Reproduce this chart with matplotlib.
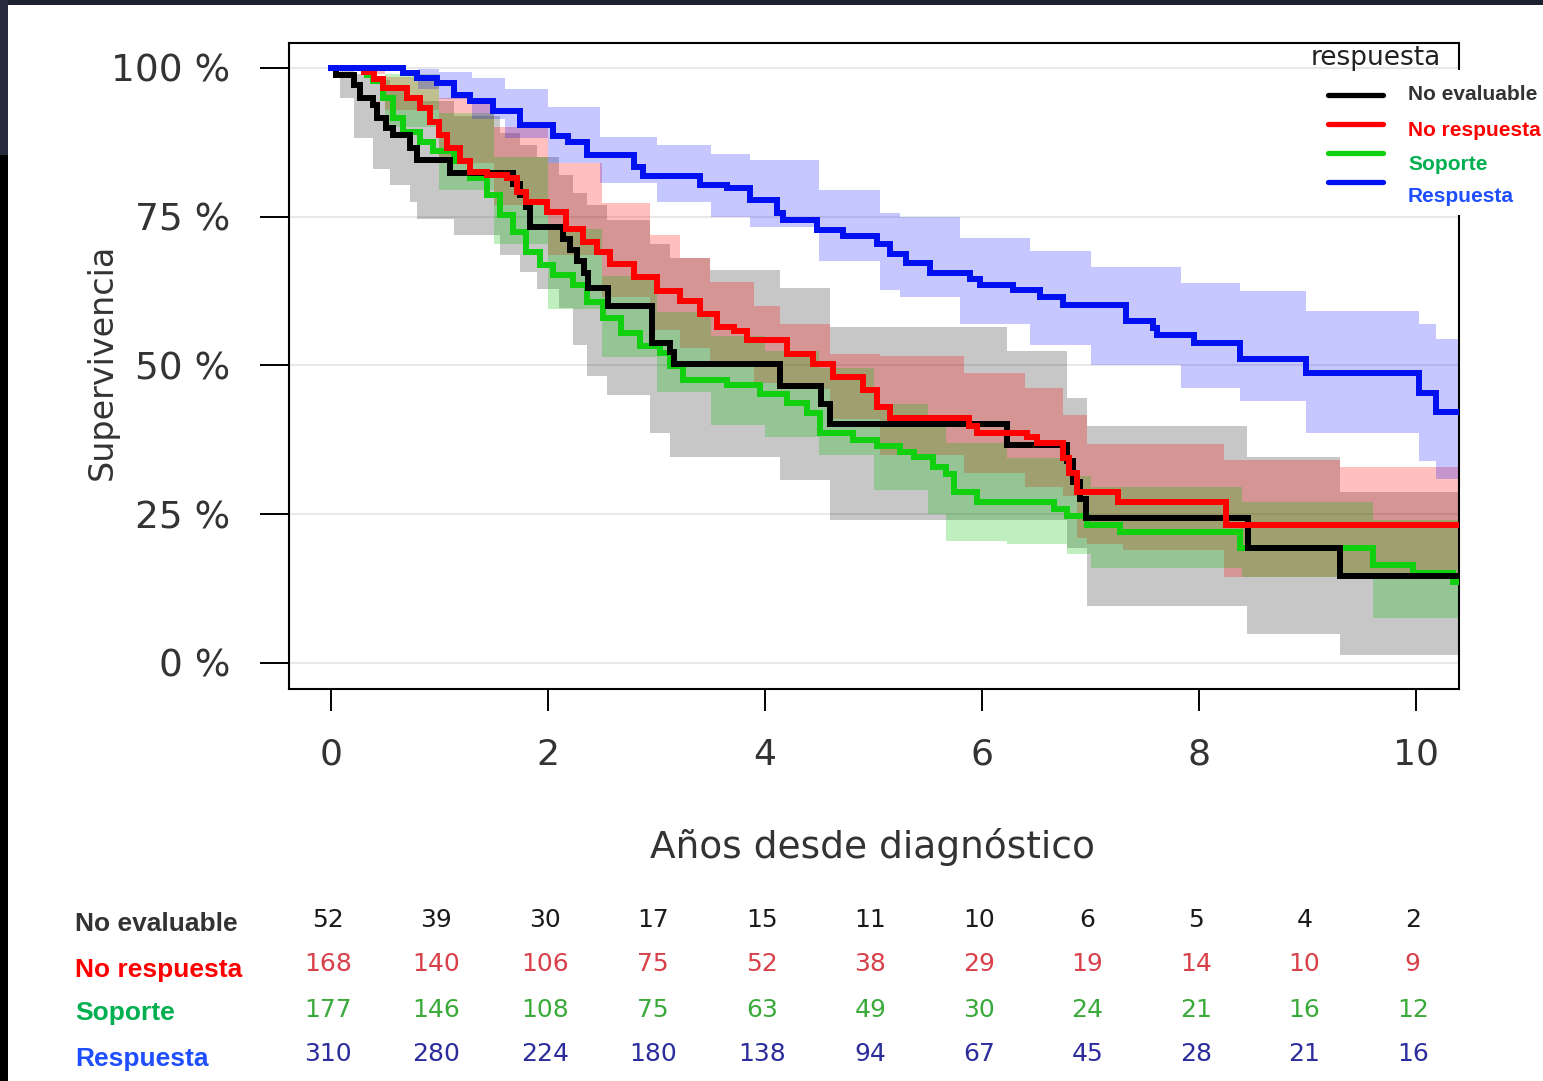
"""
Kaplan-Meier survival by response group, with confidence bands and a
number-at-risk table underneath. Saves out.png at 1543x1081.
"""

import matplotlib
matplotlib.use("Agg")
import matplotlib.pyplot as plt
import matplotlib.transforms as mtransforms
from matplotlib.lines import Line2D
from matplotlib.patches import Rectangle

W, H, DPI = 1543, 1081, 100

# ---- curves (years, survival %) : step functions, value holds from t on ----
noeval_t = [0, 0.05, 0.21, 0.27, 0.39, 0.42, 0.51, 0.57, 0.73, 0.79, 1.10,
            1.68, 1.74, 1.80, 1.83, 2.14, 2.20, 2.27, 2.33, 2.37, 2.55, 2.96,
            3.12, 3.16, 4.14, 4.52, 4.60, 6.23, 6.78, 6.84, 6.90, 6.96, 8.45,
            9.30, 10.40]
noeval_s = [100, 98.9, 97.2, 94.9, 93.8, 91.6, 89.9, 88.8, 86.5, 84.6, 82.4,
            80.5, 78.6, 76.7, 73.2, 71.3, 69.4, 67.5, 65.6, 63.0, 60.0, 53.8,
            52.2, 50.3, 46.6, 43.5, 40.2, 36.6, 34.0, 30.5, 27.5, 24.4, 19.3,
            14.6, 14.6]

norresp_t = [0, 0.30, 0.40, 0.48, 0.70, 0.82, 0.91, 1.00, 1.07, 1.19, 1.28,
             1.44, 1.62, 1.71, 1.80, 1.99, 2.17, 2.32, 2.45, 2.57, 2.79, 3.00,
             3.22, 3.40, 3.56, 3.71, 3.83, 4.20, 4.44, 4.63, 4.90, 5.03, 5.15,
             5.88, 5.95, 6.41, 6.51, 6.75, 6.80, 6.88, 7.25, 8.25, 10.40]
norresp_s = [100, 99.4, 98.2, 96.6, 94.9, 93.3, 91.0, 88.8, 86.5, 84.3, 82.6,
             82.0, 81.5, 79.2, 77.5, 75.8, 73.0, 70.8, 69.1, 67.0, 64.9, 62.6,
             60.9, 58.7, 56.4, 55.8, 54.3, 51.9, 50.3, 48.0, 45.8, 43.0, 41.2,
             39.8, 38.7, 38.0, 37.0, 34.5, 32.0, 28.8, 27.0, 23.2, 23.2]

soporte_t = [0, 0.33, 0.39, 0.48, 0.57, 0.66, 0.82, 0.94, 1.13, 1.28, 1.44,
             1.56, 1.68, 1.80, 1.93, 2.05, 2.23, 2.36, 2.51, 2.67, 2.85, 3.03,
             3.12, 3.24, 3.65, 3.95, 4.20, 4.39, 4.51, 4.81, 5.03, 5.24, 5.37,
             5.55, 5.67, 5.74, 5.95, 6.66, 6.78, 6.97, 7.27, 8.38, 9.60, 9.97,
             10.34, 10.40]
soporte_s = [100, 98.9, 97.8, 94.9, 91.6, 89.3, 87.6, 86.0, 84.3, 81.5, 78.7,
             75.3, 72.5, 69.1, 66.9, 65.2, 63.5, 60.7, 57.9, 55.5, 53.3, 52.1,
             49.9, 47.6, 46.8, 45.2, 43.7, 42.0, 38.7, 37.5, 36.4, 35.5, 34.6,
             33.0, 31.7, 28.8, 27.0, 25.8, 24.7, 23.2, 22.1, 19.4, 16.5, 15.1,
             13.6, 13.6]

resp_t = [0, 0.66, 0.79, 0.98, 1.13, 1.28, 1.49, 1.74, 2.05, 2.18, 2.36, 2.79,
          2.88, 3.40, 3.65, 3.86, 4.11, 4.17, 4.48, 4.72, 5.03, 5.15, 5.30,
          5.52, 5.89, 5.98, 6.29, 6.53, 6.75, 7.33, 7.58, 7.61, 7.95, 8.38,
          8.99, 10.03, 10.18, 10.40]
resp_s = [100, 99.2, 98.3, 97.5, 95.5, 94.4, 92.7, 90.4, 88.5, 87.6, 85.4,
          83.4, 81.8, 80.4, 79.8, 77.8, 75.6, 74.5, 72.8, 71.7, 70.4, 68.8,
          67.2, 65.6, 64.5, 63.6, 62.7, 61.5, 60.1, 57.5, 56.3, 55.1, 53.7,
          51.1, 48.7, 45.4, 42.2, 42.2]

# ---- confidence bands (years, lower %, upper %) ----
noeval_bt = [0, 0.08, 0.21, 0.39, 0.54, 0.73, 0.79, 1.13, 1.56, 1.74, 1.90,
             2.10, 2.23, 2.36, 2.54, 2.94, 3.12, 3.49, 4.14, 4.60, 6.23, 6.78,
             6.97, 8.44, 9.30, 10.40]
noeval_lo = [100, 94.9, 88.2, 83.1, 80.3, 77.5, 74.7, 71.9, 68.5, 65.7, 62.9,
             59.6, 53.5, 48.3, 45.0, 38.6, 34.6, 34.6, 30.8, 24.0, 24.0, 19.4,
             9.5, 4.8, 1.3, 1.3]
noeval_hi = [100, 100, 99.0, 98.0, 97.0, 95.5, 94.5, 92.0, 89.0, 87.0, 85.0,
             82.0, 79.0, 77.0, 74.5, 70.5, 68.0, 66.0, 63.0, 56.5, 52.5, 44.6,
             39.9, 34.6, 28.8, 28.8]

norresp_bt = [0, 0.3, 0.5, 1.0, 1.5, 2.0, 2.5, 2.94, 3.22, 3.49, 3.9, 4.14,
              4.6, 5.06, 5.83, 6.40, 6.75, 6.88, 6.97, 7.3, 8.23, 9.30, 10.40]
norresp_lo = [100, 99, 93, 84, 77, 68.5, 61.5, 56, 53, 50.5, 47, 46, 41,
              35, 32, 29.5, 28, 21, 20, 19, 14.5, 14.5, 14.5]
norresp_hi = [100, 100, 98.5, 95, 90, 84, 77.3, 72, 68, 64, 60, 57, 52,
              51.6, 48.7, 46.3, 41.7, 41.7, 36.8, 36.8, 34.1, 32.9, 32.9]

soporte_bt = [0, 0.3, 0.5, 1.0, 1.5, 2.0, 2.5, 3.0, 3.5, 4.0, 4.5, 5.0, 5.5,
              5.67, 6.23, 6.78, 7.0, 8.4, 9.6, 10.40]
soporte_lo = [100, 99.5, 90, 79.5, 70.5, 59.5, 51.5, 45.5, 40, 38, 35, 29, 25,
              20.5, 20, 18.3, 16, 14.5, 7.5, 7.5]
soporte_hi = [100, 100, 99, 92.5, 85, 73, 65, 59, 55, 52.5, 49.5, 43.5, 41,
              37, 34.5, 31.5, 29.5, 27, 24, 24]

resp_bt = [0, 0.64, 0.8, 1.0, 1.3, 1.6, 2.0, 2.48, 3.0, 3.5, 3.86, 4.5, 5.06,
           5.24, 5.8, 6.44, 7.0, 7.83, 8.38, 8.99, 10.03, 10.18, 10.40]
resp_lo = [100, 100, 96.5, 94.8, 91.5, 88.3, 84, 80.7, 77.5, 75, 73.3, 67.5,
           62.7, 61.5, 57, 53.4, 50, 46.3, 44, 38.7, 34, 31, 31]
resp_hi = [100, 100, 99.8, 99.3, 98.3, 96.5, 93.5, 88.4, 87, 85.5, 84.5, 79.5,
           75.6, 75.0, 71.5, 69.2, 66.5, 63.9, 62.5, 59.2, 56.9, 54.5, 54.5]

# ---- number at risk ----
risk_years = [0, 1, 2, 3, 4, 5, 6, 7, 8, 9, 10]
noeval_risk = [52, 39, 30, 17, 15, 11, 10, 6, 5, 4, 2]
norresp_risk = [168, 140, 106, 75, 52, 38, 29, 19, 14, 10, 9]
soporte_risk = [177, 146, 108, 75, 63, 49, 30, 24, 21, 16, 12]
resp_risk = [310, 280, 224, 180, 138, 94, 67, 45, 28, 21, 16]

group_names = ["No evaluable", "No respuesta", "Soporte", "Respuesta"]

GROUPS = [
    # name, t, s, band t, lo, hi, risk, line colour, band colour, band alpha,
    # label colour, risk colour
    (group_names[0], noeval_t, noeval_s, noeval_bt, noeval_lo, noeval_hi,
     noeval_risk, "#000000", "#000000", 0.22, "#333333", "#1a1a1a"),
    (group_names[1], norresp_t, norresp_s, norresp_bt, norresp_lo, norresp_hi,
     norresp_risk, "#ff0000", "#ff0000", 0.25, "#ff0000", "#d8404a"),
    (group_names[2], soporte_t, soporte_s, soporte_bt, soporte_lo, soporte_hi,
     soporte_risk, "#10d010", "#00c000", 0.25, "#00b050", "#3aaa3a"),
    (group_names[3], resp_t, resp_s, resp_bt, resp_lo, resp_hi,
     resp_risk, "#0010f0", "#0000ff", 0.22, "#1f4eff", "#2c2c9c"),
]
LINE_ORDER = [2, 0, 1, 3]  # green under black, red and blue on top

TICK_FONT = "DejaVu Sans"
BOLD_FONT = "Liberation Sans"


def fx(px):
    return px / W


def fy(py):
    return 1 - py / H


fig = plt.figure(figsize=(W / DPI, H / DPI), dpi=DPI)
fig.patch.set_facecolor("white")

# screenshot frame: dark strips along top and left edges
fig.add_artist(Rectangle((0, fy(5)), 1, 5 / H, transform=fig.transFigure,
                         facecolor="#1e2130", edgecolor="none", zorder=10))
fig.add_artist(Rectangle((0, fy(155)), fx(8), 155 / H, transform=fig.transFigure,
                         facecolor="#272b3d", edgecolor="none", zorder=10))
fig.add_artist(Rectangle((0, 0), fx(8), fy(155), transform=fig.transFigure,
                         facecolor="#000000", edgecolor="none", zorder=10))

ax = fig.add_axes([fx(289), fy(689), fx(1459 - 289), (689 - 43) / H])
ax.set_xlim(-0.387, 10.396)
ax.set_ylim(-4.37, 104.2)

for v in [0, 25, 50, 75, 100]:
    ax.axhline(v, color="#e4e4e4", lw=1.2, zorder=0)

for (name, t, s, bt, lo, hi, risk, lc, bc, ba, tc, rc) in GROUPS:
    ax.fill_between(bt, lo, hi, step="post", color=bc, alpha=ba, lw=0, zorder=1)

for i in LINE_ORDER:
    name, t, s = GROUPS[i][0], GROUPS[i][1], GROUPS[i][2]
    ax.plot(t, s, drawstyle="steps-post", color=GROUPS[i][7], lw=4.3,
            solid_joinstyle="miter", zorder=3)

ax.set_xticks([0, 2, 4, 6, 8, 10])
ax.set_yticks([0, 25, 50, 75, 100])
ax.set_yticklabels([f"{v} %" for v in [0, 25, 50, 75, 100]])
ax.tick_params(axis="y", length=21, width=1.4, pad=21, labelsize=27,
               labelcolor="#333333")
ax.tick_params(axis="x", length=16, width=1.4, pad=19, labelsize=26,
               labelcolor="#333333")
for lab in ax.get_xticklabels() + ax.get_yticklabels():
    lab.set_family(TICK_FONT)
for sp in ax.spines.values():
    sp.set_linewidth(1.5)
    sp.set_color("black")

fig.text(fx(872), fy(847), "Años desde diagnóstico", ha="center", va="center",
         fontsize=27, color="#333333", family=TICK_FONT)
fig.text(fx(102), fy(362), "Supervivencia", ha="center", va="center",
         rotation=90, fontsize=24, color="#333333", family=TICK_FONT)

# legend: pasted panel over the top-right corner of the frame
fig.text(fx(1376), fy(58), "respuesta", ha="center", va="center",
         fontsize=19, color="#222222", family=TICK_FONT, zorder=12)
fig.add_artist(Rectangle((fx(1388), fy(215)), fx(1543 - 1388), 145 / H,
                         transform=fig.transFigure, facecolor="white",
                         edgecolor="none", zorder=11))
handle_y = [95, 124, 153, 182]
label_y = [95, 131, 164, 197]
for k, g in enumerate(GROUPS):
    fig.add_artist(Line2D([fx(1328), fx(1383)], [fy(handle_y[k])] * 2,
                          transform=fig.transFigure, color=g[7], lw=3.8,
                          solid_capstyle="round", zorder=12))
    fig.text(fx(1408), fy(label_y[k]), g[0], ha="left", va="center",
             fontsize=15, fontweight="bold", color=g[10], family=BOLD_FONT,
             zorder=12)

# number-at-risk table
row_label_y = [924, 970, 1013, 1059]
row_num_y = [920, 964, 1010, 1054]
trans = mtransforms.blended_transform_factory(ax.transData, fig.transFigure)
for k, g in enumerate(GROUPS):
    fig.text(fx(75), fy(row_label_y[k]), g[0], ha="left", va="center",
             fontsize=19, fontweight="bold", color=g[10], family=BOLD_FONT)
    for yr, n in zip(risk_years, g[6]):
        ax.text(yr - 0.03, fy(row_num_y[k]), str(n), transform=trans,
                ha="center", va="center", fontsize=18, color=g[11],
                family=TICK_FONT, clip_on=False)

fig.savefig("out.png", dpi=DPI)
